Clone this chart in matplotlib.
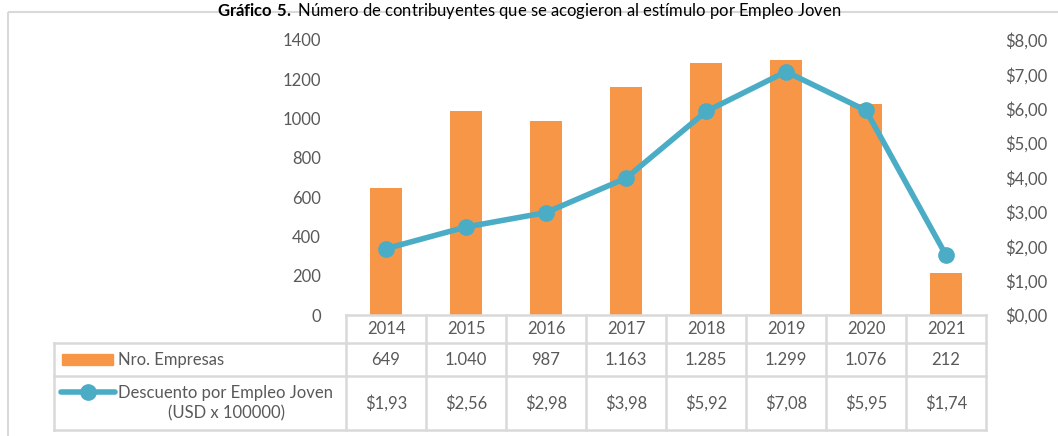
import matplotlib.pyplot as plt
from matplotlib.patches import Rectangle
from matplotlib.lines import Line2D

years = ["2014", "2015", "2016", "2017", "2018", "2019", "2020", "2021"]
empresas = [649, 1040, 987, 1163, 1285, 1299, 1076, 212]
descuento = [1.93, 2.56, 2.98, 3.98, 5.92, 7.08, 5.95, 1.74]
left_ticks = [0, 200, 400, 600, 800, 1000, 1200, 1400]
right_ticks = [0, 1, 2, 3, 4, 5, 6, 7, 8]

BAR_COLOR = "#F79646"
LINE_COLOR = "#4BACC6"
TEXT_COLOR = "#595959"
GRID_COLOR = "#D9D9D9"
FONT = "Lato"

W, H = 1058, 436
# layout in pixels
PLOT_L, PLOT_R, PLOT_T, PLOT_B = 346, 986, 40, 315
LEG_L = 54
ROW1_B, ROW2_B, ROW3_B = 343, 376, 430


def fmt_miles(v):
    return f"{v:,}".replace(",", ".")


def fmt_usd(v):
    return "$" + f"{v:.2f}".replace(".", ",")


plt.rcParams["font.family"] = [FONT, "DejaVu Sans"]
plt.rcParams["mathtext.fontset"] = "custom"
plt.rcParams["mathtext.rm"] = FONT
plt.rcParams["mathtext.bf"] = FONT + ":bold"
fig = plt.figure(figsize=(W / 100, H / 100), dpi=100)
fs = 12

ax = fig.add_axes([PLOT_L / W, 1 - PLOT_B / H, (PLOT_R - PLOT_L) / W, (PLOT_B - PLOT_T) / H])
x = list(range(len(years)))
ax.bar(x, empresas, width=0.4, color=BAR_COLOR, zorder=2)
ax.set_xlim(-0.5, len(years) - 0.5)
ax.set_ylim(0, 1400)
ax.set_yticks(left_ticks)
ax.set_yticklabels([str(t) for t in left_ticks])
ax.set_xticks([])
for s in ax.spines.values():
    s.set_visible(False)
ax.tick_params(axis="y", length=0, pad=18, labelcolor=TEXT_COLOR, labelsize=fs)

ax2 = ax.twinx()
ax2.plot(x, descuento, color=LINE_COLOR, lw=4, marker="o", markersize=11, zorder=3)
ax2.set_ylim(0, 8)
ax2.set_yticks(right_ticks)
ax2.set_yticklabels([fmt_usd(t) for t in right_ticks])
for s in ax2.spines.values():
    s.set_visible(False)
ax2.tick_params(axis="y", length=0, pad=14, labelcolor=TEXT_COLOR, labelsize=fs)

# overlay in pixel coordinates for table and frame
ov = fig.add_axes([0, 0, 1, 1], zorder=-1)
ov.set_xlim(0, W)
ov.set_ylim(H, 0)
ov.axis("off")

tab = fig.add_axes([0, 0, 1, 1], zorder=5)
tab.set_xlim(0, W)
tab.set_ylim(H, 0)
tab.axis("off")
tab.patch.set_alpha(0)

ov.add_patch(Rectangle((8, 12), W, H, fill=False, ec=GRID_COLOR, lw=1.5))

col_w = (PLOT_R - PLOT_L) / len(years)
lw = 1.8
# horizontal lines
tab.plot([PLOT_L, PLOT_R], [PLOT_B, PLOT_B], color=GRID_COLOR, lw=lw)
for yy in (ROW1_B, ROW2_B, ROW3_B):
    tab.plot([LEG_L, PLOT_R], [yy, yy], color=GRID_COLOR, lw=lw)
# vertical lines
for i in range(len(years) + 1):
    xx = PLOT_L + i * col_w
    tab.plot([xx, xx], [PLOT_B, ROW3_B], color=GRID_COLOR, lw=lw)
tab.plot([LEG_L, LEG_L], [ROW1_B, ROW3_B], color=GRID_COLOR, lw=lw)

for i, yr in enumerate(years):
    cx = PLOT_L + (i + 0.5) * col_w
    tab.text(cx, (PLOT_B + ROW1_B) / 2, yr, ha="center", va="center", fontsize=fs, color=TEXT_COLOR)
    tab.text(cx, (ROW1_B + ROW2_B) / 2, fmt_miles(empresas[i]), ha="center", va="center",
             fontsize=fs, color=TEXT_COLOR)
    tab.text(cx, (ROW2_B + ROW3_B) / 2, fmt_usd(descuento[i]), ha="center", va="center",
             fontsize=fs, color=TEXT_COLOR)

# legend keys
tab.add_patch(Rectangle((62, 354), 51, 11, color=BAR_COLOR))
tab.text(118, (ROW1_B + ROW2_B) / 2, "Nro. Empresas", ha="left", va="center", fontsize=fs, color=TEXT_COLOR)
tab.add_line(Line2D([61, 115], [392, 392], color=LINE_COLOR, lw=4, solid_capstyle="round"))
tab.plot([88], [392], marker="o", markersize=11, color=LINE_COLOR)
tab.text(226, (ROW2_B + ROW3_B) / 2, "Descuento por Empleo Joven\n(USD x 100000)", ha="center",
         va="center", fontsize=fs, color=TEXT_COLOR, linespacing=1.3)

# title at the top edge
fig.text(0.5, 1 - 1 / H, r"$\bf{Gráfico\ 5.}$ Número de contribuyentes que se acogieron al estímulo por Empleo Joven",
         ha="center", va="top", fontsize=12, color="#000000")

fig.savefig("out.png", dpi=100)
